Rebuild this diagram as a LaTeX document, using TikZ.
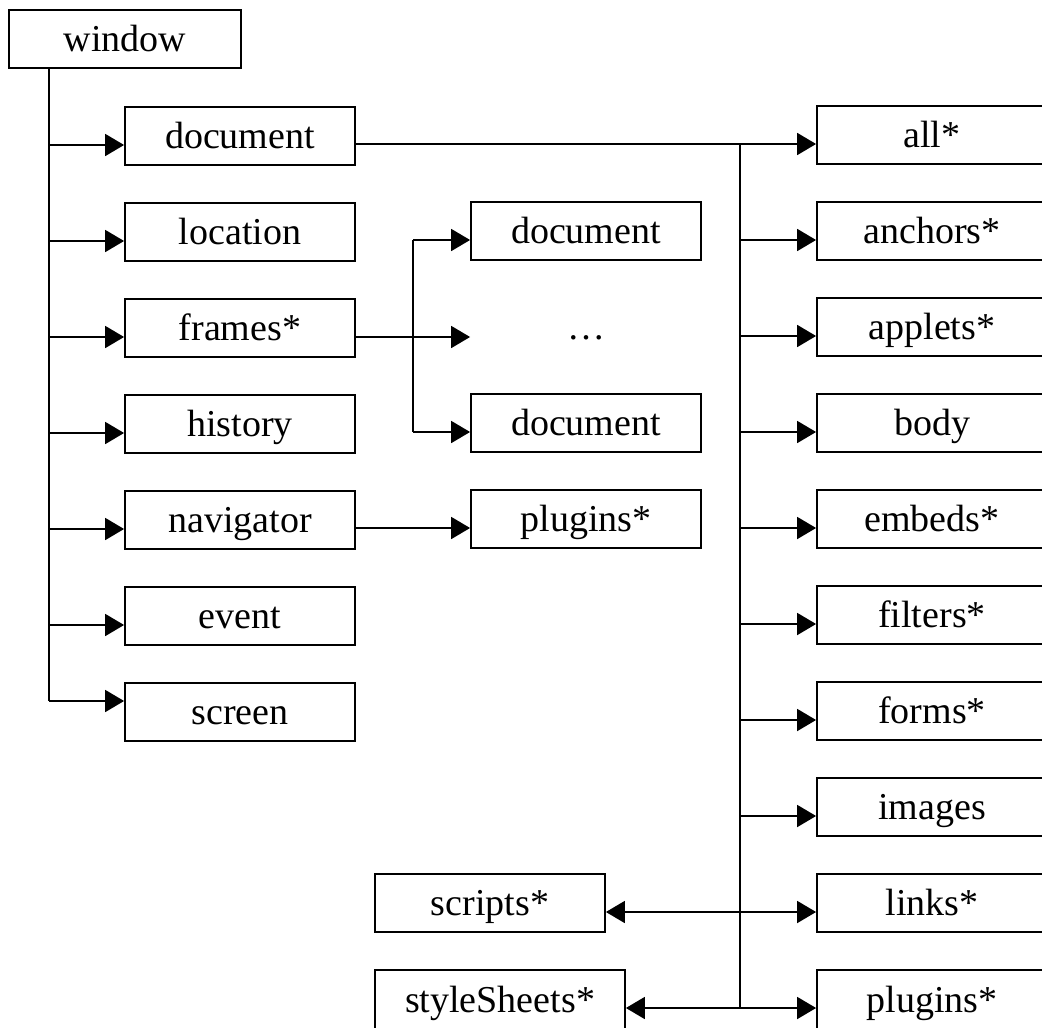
\documentclass[tikz,border=0pt]{standalone}
\usepackage{fontspec}
\setmainfont{Liberation Serif}
\usetikzlibrary{arrows.meta}

\tikzset{
  obj/.style={draw, line width=1.8pt, minimum width=230pt, minimum height=58pt,
    inner sep=0pt, text height=25pt, text depth=0pt,
    font=\fontsize{38}{42}\selectfont},
  link/.style={line width=1.8pt},
  arr/.style={link, -{Triangle[length=19pt,width=22pt]}}
}

\begin{document}
\begin{tikzpicture}[x=1pt, y=-1pt]
    \useasboundingbox (0,0) rectangle (1042,1028);

    % Root
    \node[obj, minimum width=232pt] (window) at (125,39) {window};

    % Properties of window
    \node[obj] (doc)   at (240,136) {document};
    \node[obj] (loc)   at (240,232) {location};
    \node[obj] (frm)   at (240,328) {frames*};
    \node[obj] (hist)  at (240,424) {history};
    \node[obj] (nav)   at (240,520) {navigator};
    \node[obj] (evt)   at (240,616) {event};
    \node[obj] (scr)   at (240,712) {screen};

    % Frames and navigator
    \node[obj] (fdocA) at (586,231) {document};
    \node[obj, draw=none] (fdots) at (586,327) {\dots};
    \node[obj] (fdocB) at (586,423) {document};
    \node[obj] (nplug) at (586,519) {plugins*};

    % Collections of document
    \node[obj] (all)   at (932,135) {all*};
    \node[obj] (anch)  at (932,231) {anchors*};
    \node[obj] (appl)  at (932,327) {applets*};
    \node[obj] (body)  at (932,423) {body};
    \node[obj] (emb)   at (932,519) {embeds*};
    \node[obj] (filt)  at (932,615) {filters*};
    \node[obj] (forms) at (932,711) {forms*};
    \node[obj] (img)   at (932,807) {images};
    \node[obj] (links) at (932,903) {links*};
    \node[obj, minimum height=60pt] (dplug) at (932,1000) {plugins*};
    \node[obj] (scrp) at (490,903) {scripts*};
    \node[obj, minimum width=250pt, minimum height=60pt] (sty) at (500,1000) {styleSheets*};

    % Trunk of window
    \coordinate (wtop) at (49,68);
    \coordinate (wbot) at (49,701);
    \draw[link] (wtop) -- (wbot);
    \draw[arr] (49,145) -- (doc.west |- 0,145);
    \draw[arr] (49,241) -- (loc.west |- 0,241);
    \draw[arr] (49,337) -- (frm.west |- 0,337);
    \draw[arr] (49,433) -- (hist.west |- 0,433);
    \draw[arr] (49,529) -- (nav.west |- 0,529);
    \draw[arr] (49,625) -- (evt.west |- 0,625);
    \draw[arr] (wbot) -- (wbot -| scr.west);

    % Branch of frames
    \coordinate (fbr) at (413,337);
    \draw[link] (frm.east |- fbr) -- (fbr);
    \draw[arr] (fbr) -- (fdots.west |- fbr);
    \draw[link] (413,240) -- (413,432);
    \draw[arr] (413,240) -- (fdocA.west |- 0,240);
    \draw[arr] (413,432) -- (fdocB.west |- 0,432);
    \draw[arr] (nav.east |- 0,528) -- (nplug.west |- 0,528);

    % Trunk of document
    \coordinate (dtop) at (740,144);
    \coordinate (dbot) at (740,1008);
    \draw[arr] (doc.east |- dtop) -- (dtop -| all.west);
    \draw[link] (dtop) -- (dbot);
    \draw[arr] (740,240) -- (anch.west |- 0,240);
    \draw[arr] (740,336) -- (appl.west |- 0,336);
    \draw[arr] (740,432) -- (body.west |- 0,432);
    \draw[arr] (740,528) -- (emb.west |- 0,528);
    \draw[arr] (740,624) -- (filt.west |- 0,624);
    \draw[arr] (740,720) -- (forms.west |- 0,720);
    \draw[arr] (740,816) -- (img.west |- 0,816);
    \draw[arr] (740,912) -- (links.west |- 0,912);
    \draw[arr] (740,912) -- (scrp.east |- 0,912);
    \draw[arr] (dbot) -- (dbot -| dplug.west);
    \draw[arr] (dbot) -- (dbot -| sty.east);
\end{tikzpicture}
\end{document}
